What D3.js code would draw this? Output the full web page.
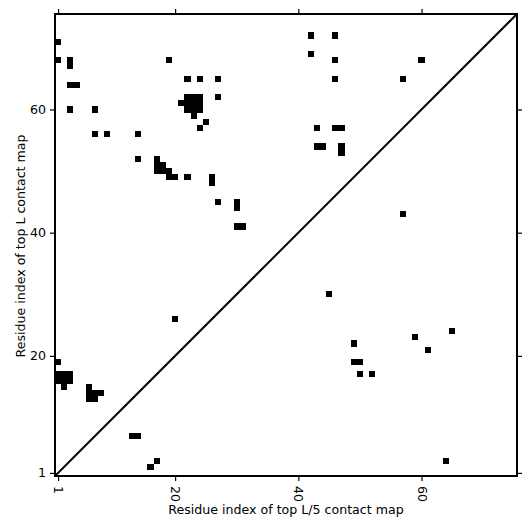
<!DOCTYPE html>
<html>
<head>
<meta charset="utf-8">
<script src="https://cdn.jsdelivr.net/npm/d3@7"></script>
<style>
  html, body { margin: 0; padding: 0; background: #fff; }
  svg { display: block; }
  text { font-family: "DejaVu Sans", sans-serif; }
</style>
</head>
<body>
<svg id="chart" width="531" height="531"></svg>
<script>
// Residue count (matrix size)
const residueCount = 75;
// Tick labels
const tickValues = [1, 20, 40, 60];
// Contacts above the diagonal (top L contact map): [x, y]
const topLContacts = [
  [1,71],[1,68],[3,68],[3,67],[3,64],[4,64],[3,60],[7,60],[7,56],[9,56],[14,56],[14,52],
  [19,68],[22,65],[24,65],[27,65],[27,62],
  [22,62],[23,62],[24,62],[21,61],[22,61],[23,61],[24,61],[22,60],[23,60],[24,60],[23,59],
  [25,58],[24,57],
  [17,52],[17,51],[18,51],[17,50],[18,50],[19,50],[19,49],[20,49],[22,49],[26,49],[26,48],
  [27,45],[30,45],[30,44],[30,41],[31,41],
  [42,72],[46,72],[42,69],[46,68],[60,68],[46,65],[57,65],
  [43,57],[46,57],[47,57],[43,54],[44,54],[47,54],[47,53],
  [57,43],[45,30],[20,26],
  [1,19],[1,17],[2,17],[3,17],[1,16],[2,16],[3,16],[2,15],
  [6,15],[6,14],[7,14],[8,14],[6,13],[7,13],[13,7],[14,7],[16,2],[17,3]
];
// Contacts below the diagonal (top L/5 contact map): [x, y]
const topL5Contacts = [
  [65,24],[59,23],[49,22],[61,21],[49,19],[50,19],[50,17],[52,17],[64,3]
];

const svg = d3.select("#chart");
const plotLeft = 55, plotTop = 14, plotSize = 462;

const x = d3.scaleLinear().domain([0.5, residueCount + 0.5]).range([plotLeft, plotLeft + plotSize]);
const y = d3.scaleLinear().domain([0.5, residueCount + 0.5]).range([plotTop + plotSize, plotTop]);

const g = svg.append("g");

const allCells = topLContacts.concat(topL5Contacts);
g.selectAll("rect.cell").data(allCells).enter().append("rect")
  .attr("class", "cell")
  .attr("x", d => x(d[0] - 0.5))
  .attr("y", d => y(d[1] + 0.5))
  .attr("width", d => x(d[0] + 0.5) - x(d[0] - 0.5))
  .attr("height", d => y(d[1] - 0.5) - y(d[1] + 0.5))
  .attr("fill", "#000")
  .attr("shape-rendering", "crispEdges");

// diagonal
g.append("line")
  .attr("x1", x(0.5)).attr("y1", y(0.5))
  .attr("x2", x(residueCount + 0.5)).attr("y2", y(residueCount + 0.5))
  .attr("stroke", "#000").attr("stroke-width", 2);

// axes
const styleAxis = sel => {
  sel.select(".domain").remove();
  sel.selectAll(".tick line").attr("stroke", "#000").attr("stroke-width", 1.2);
  sel.selectAll(".tick text").attr("fill", "#000").style("font-size", "12.6px")
     .style("font-family", "'DejaVu Sans', sans-serif");
};

const xb = svg.append("g").attr("transform", `translate(0,${plotTop + plotSize})`)
  .call(d3.axisBottom(x).tickValues(tickValues).tickSize(5).tickPadding(4));
styleAxis(xb);
xb.selectAll(".tick text")
  .attr("transform", "rotate(90)")
  .attr("text-anchor", "start")
  .attr("dy", "0.35em")
  .attr("x", 10).attr("y", 0);

const xt = svg.append("g").attr("transform", `translate(0,${plotTop})`)
  .call(d3.axisTop(x).tickValues(tickValues).tickSize(5).tickFormat(""));
styleAxis(xt);

const yl = svg.append("g").attr("transform", `translate(${plotLeft},0)`)
  .call(d3.axisLeft(y).tickValues(tickValues).tickSize(5).tickPadding(4));
styleAxis(yl);

const yr = svg.append("g").attr("transform", `translate(${plotLeft + plotSize},0)`)
  .call(d3.axisRight(y).tickValues(tickValues).tickSize(5).tickFormat(""));
styleAxis(yr);

// frame
svg.append("rect")
  .attr("x", plotLeft).attr("y", plotTop).attr("width", plotSize).attr("height", plotSize)
  .attr("fill", "none").attr("stroke", "#000").attr("stroke-width", 2);

// axis labels
svg.append("text")
  .attr("x", 286).attr("y", 514)
  .attr("text-anchor", "middle").style("font-size", "12.6px")
  .text("Residue index of top L/5 contact map");

svg.append("text")
  .attr("transform", `translate(25,246) rotate(-90)`)
  .attr("text-anchor", "middle").style("font-size", "12.6px")
  .text("Residue index of top L contact map");
</script>
</body>
</html>
